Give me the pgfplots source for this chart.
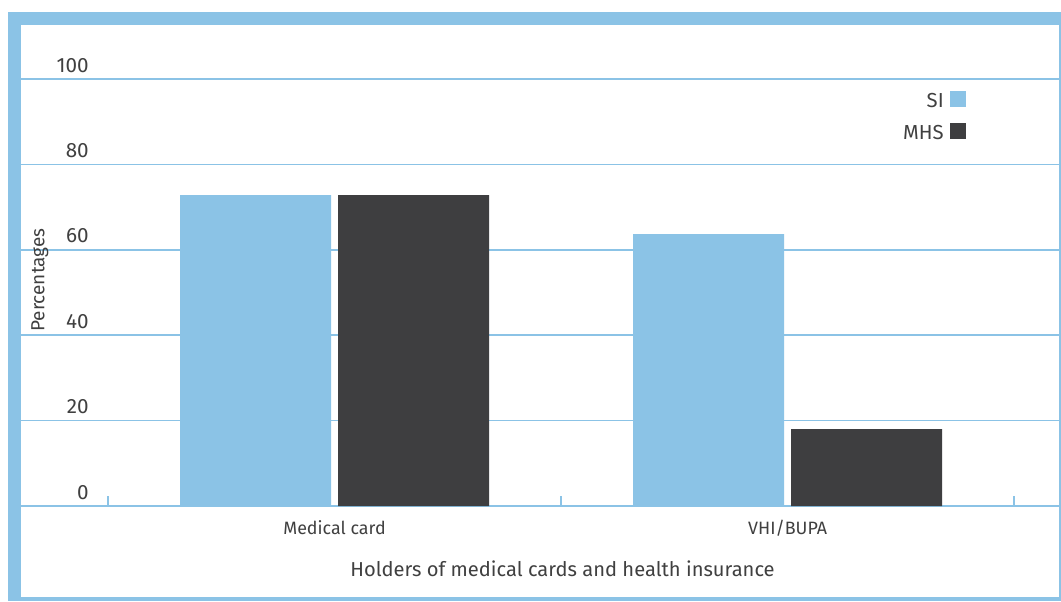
\documentclass[border=0pt]{standalone}
\usepackage{pgfplots}
\pgfplotsset{compat=1.18}
\usepackage{fontspec}
\setmainfont{Fira Sans}
\definecolor{siblue}{RGB}{139,195,230}
\definecolor{mhsgray}{RGB}{62,62,64}
\definecolor{txt}{RGB}{64,64,64}

\begin{document}
\begin{tikzpicture}[x=0.75pt,y=0.75pt]
\useasboundingbox (0,0) rectangle (1061,601);
% frame
\fill[siblue] (8,0) rectangle (1061,589);
\fill[white] (21,4) rectangle (1059,576);
\begin{axis}[
  at={(15.75pt,71.25pt)}, anchor=south west,
  scale only axis, width=778.5pt, height=360.75pt,
  xmin=-0.692, xmax=1.599, ymin=0, ymax=112.65,
  axis x line*=bottom, axis y line*=left,
  x axis line style={siblue, line width=1.1pt, -},
  y axis line style={draw=none},
  ytick={0,20,...,100},
  ymajorgrids, grid style={siblue, line width=1.1pt},
  ytick style={draw=none},
  xtick={0,1}, xticklabels={Medical card, VHI/BUPA},
  major tick length=0pt,
  minor xtick={-0.5,0.5,1.5}, minor tick length=7.5pt,
  minor x tick style={siblue, line width=1.1pt},
  tick align=inside,
  /pgf/number format/assume math mode=true,
  xticklabel style={anchor=base, yshift=-21pt, font=\fontsize{13.4}{15}\selectfont, text=txt},
  yticklabel style={anchor=base east, inner sep=0pt, xshift=51pt, yshift=5.25pt, font=\fontsize{15.5}{17}\selectfont, text=txt},
  xlabel={Holders of medical cards and health insurance},
  xlabel style={at={(axis description cs:0.5217,-0.1476)}, anchor=base, font=\fontsize{15.1}{17}\selectfont, text=txt},
  ylabel={Percentages},
  ylabel style={at={(axis description cs:0.0183,0.4699)}, anchor=center, font=\fontsize{14.2}{16}\selectfont, text=txt},
  legend plot pos=right, legend cell align=right,
  legend style={at={(0.9104,0.8628)}, anchor=north east, draw=none, fill=none,
    inner sep=0pt, row sep=10.5pt, column sep=4.5pt,
    font=\fontsize{15.2}{17}\selectfont, nodes={inner sep=0pt, text=txt}},
]
\addplot[ybar, bar width=0.3333, bar shift=-0.1744, fill=siblue, draw=none,
  legend image code/.code={\fill[siblue] (0pt,-4.5pt) rectangle (12pt,7.5pt);}]
  coordinates {(0,72.8) (1,63.7)};
\addlegendentry{SI}
\addplot[ybar, bar width=0.3333, bar shift=0.1744, fill=mhsgray, draw=none,
  legend image code/.code={\fill[mhsgray] (0pt,-4.5pt) rectangle (12pt,7.5pt);}]
  coordinates {(0,72.8) (1,18.0)};
\addlegendentry{MHS}
\end{axis}
\end{tikzpicture}
\end{document}
